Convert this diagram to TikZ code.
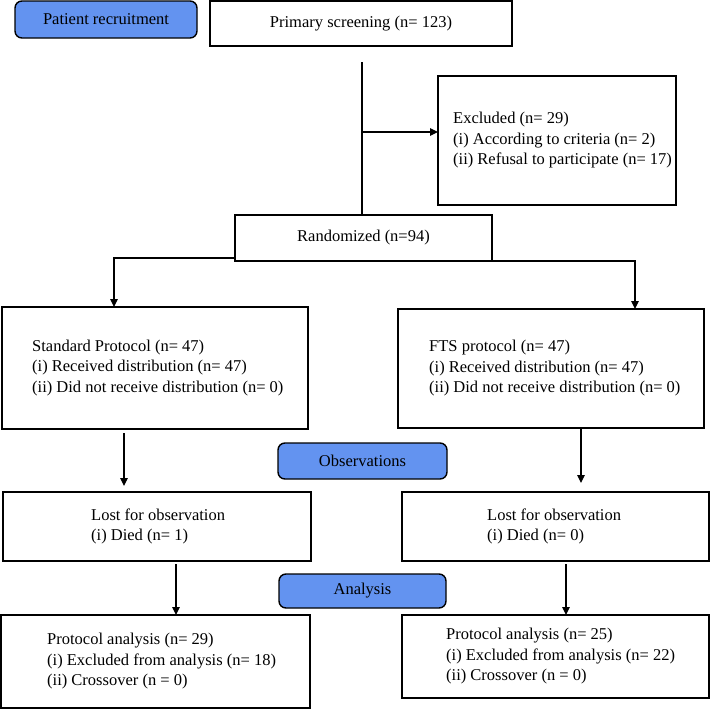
\documentclass[tikz,border=0pt]{standalone}
\usepackage{fontspec}
\setmainfont{Liberation Serif}
\usetikzlibrary{arrows.meta}

\definecolor{stageblue}{RGB}{99,147,240}

\tikzset{
  box/.style={draw, line width=1.4pt, inner sep=0pt, outer sep=0pt, anchor=north west,
    font=\fontsize{16.5}{20.5}\selectfont},
  stage/.style={box, fill=stageblue, rounded corners=7pt},
  txt/.style={align=left, anchor=west, inner sep=0pt, font=\fontsize{16.5}{20.5}\selectfont},
  flow/.style={line width=1.1pt},
}

\begin{document}
\begin{tikzpicture}[x=1pt, y=-1pt, >={Triangle[length=8pt,width=7.5pt]}]
  \useasboundingbox (0,0) rectangle (710,710);

  % Stage labels
  \node[stage, minimum width=182, minimum height=37] (recruit) at (15,1) {Patient recruitment};
  \node[stage, minimum width=169, minimum height=36] (obs) at (278,443) {Observations};
  \node[stage, minimum width=167, minimum height=34] (ana) at (279,574) {Analysis};

  % Screening and exclusion
  \node[box, minimum width=302, minimum height=45] (primary) at (210,1) {Primary screening (n= 123)};
  \node[box, minimum width=238, minimum height=129] (excl) at (438,76) {};
  \node[txt] (excltext) at (453,140.5) {Excluded (n= 29)\\(i) According to criteria (n= 2)\\(ii) Refusal to participate (n= 17)};
  \node[box, minimum width=257, minimum height=46] (rand) at (235,215) {Randomized (n=94)};

  % Allocation
  \node[box, minimum width=306, minimum height=122] (std) at (2,307) {};
  \node[txt] (stdtext) at (32,368) {Standard Protocol (n= 47)\\(i) Received distribution (n= 47)\\(ii) Did not receive distribution (n= 0)};
  \node[box, minimum width=306, minimum height=119] (fts) at (398,309) {};
  \node[txt] (ftstext) at (429,368.5) {FTS protocol (n= 47)\\(i) Received distribution (n= 47)\\(ii) Did not receive distribution (n= 0)};

  % Follow-up
  \node[box, minimum width=308, minimum height=69] (lostL) at (3,492) {};
  \node[txt] (lostLtext) at (91,526.5) {Lost for observation\\(i) Died (n= 1)};
  \node[box, minimum width=307, minimum height=69] (lostR) at (402,492) {};
  \node[txt] (lostRtext) at (487,526.5) {Lost for observation\\(i) Died (n= 0)};

  % Analysis
  \node[box, minimum width=309, minimum height=93] (protL) at (1,615) {};
  \node[txt] (protLtext) at (47,661.5) {Protocol analysis (n= 29)\\(i) Excluded from analysis (n= 18)\\(ii) Crossover (n = 0)};
  \node[box, minimum width=307, minimum height=83] (protR) at (402,615) {};
  \node[txt] (protRtext) at (446,656.5) {Protocol analysis (n= 25)\\(i) Excluded from analysis (n= 22)\\(ii) Crossover (n = 0)};

  % Connector guides
  \coordinate (trunk) at (362,62);
  \coordinate (exarrow) at (362,132);
  \coordinate (brL) at (114,258);
  \coordinate (brR) at (635,261);
  \coordinate (colL1) at (124,0);
  \coordinate (colR1) at (581,0);
  \coordinate (colL2) at (176,0);
  \coordinate (colR2) at (566,0);

  % Connectors
  \draw[flow] (trunk) -- (trunk |- rand.north);
  \draw[flow, ->] (exarrow) -- (exarrow -| excl.west);
  \draw[flow, ->] (rand.south west |- brL) -- (brL) -- (brL |- std.north);
  \draw[flow, ->] (rand.south east) -| (brR |- fts.north);
  \draw[flow, ->, shorten <=4pt, shorten >=6pt] (std.south -| colL1) -- (lostL.north -| colL1);
  \draw[flow, ->, shorten >=9pt] (fts.south -| colR1) -- (lostR.north -| colR1);
  \draw[flow, ->, shorten <=3pt] (lostL.south -| colL2) -- (protL.north -| colL2);
  \draw[flow, ->, shorten <=3pt] (lostR.south -| colR2) -- (protR.north -| colR2);
\end{tikzpicture}
\end{document}
